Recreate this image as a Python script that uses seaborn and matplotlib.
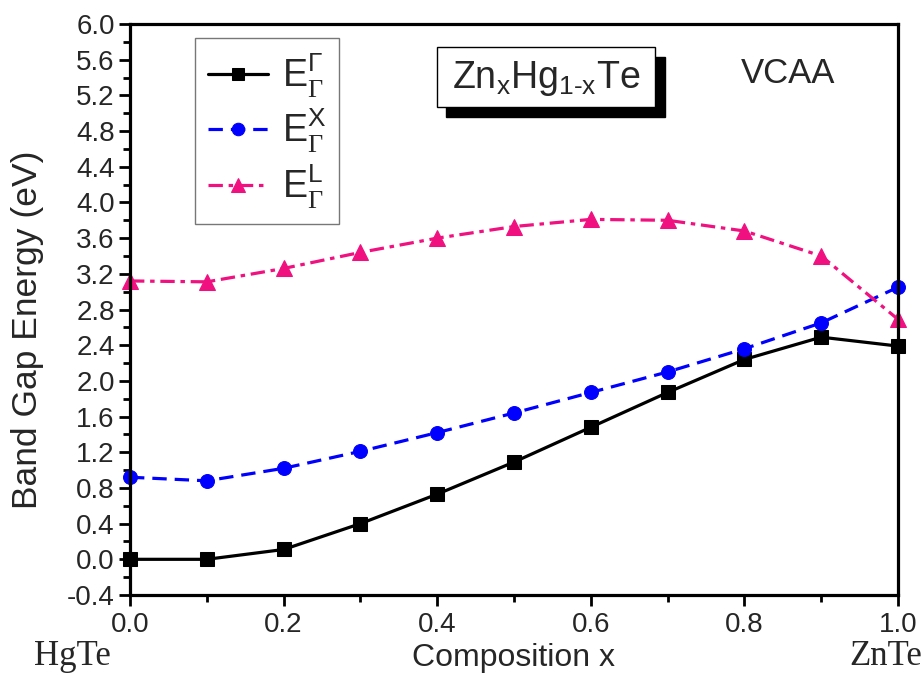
import numpy as np
import pandas as pd
import seaborn as sns
import matplotlib
matplotlib.use("Agg")
import matplotlib.pyplot as plt
from matplotlib.ticker import MultipleLocator, FormatStrFormatter
from matplotlib.patches import Rectangle

# ---- data ----
composition = [0.0, 0.1, 0.2, 0.3, 0.4, 0.5, 0.6, 0.7, 0.8, 0.9, 1.0]
e_gamma = [0.0, 0.0, 0.11, 0.40, 0.73, 1.09, 1.48, 1.87, 2.24, 2.49, 2.39]
e_x = [0.92, 0.88, 1.02, 1.21, 1.42, 1.64, 1.87, 2.10, 2.36, 2.65, 3.05]
e_l = [3.12, 3.11, 3.26, 3.44, 3.60, 3.73, 3.81, 3.80, 3.68, 3.40, 2.69]
series_names = ["G", "X", "L"]
legend_labels = [r"$\mathrm{E}_{\mathsf{\Gamma}}^{\Gamma}$",
                 r"$\mathrm{E}_{\mathsf{\Gamma}}^{\mathrm{X}}$",
                 r"$\mathrm{E}_{\mathsf{\Gamma}}^{\mathrm{L}}$"]
y_ticks = [-0.4, 0.0, 0.4, 0.8, 1.2, 1.6, 2.0, 2.4, 2.8, 3.2, 3.6, 4.0, 4.4, 4.8, 5.2, 5.6, 6.0]
x_ticks = [0.0, 0.2, 0.4, 0.6, 0.8, 1.0]

df = pd.DataFrame({
    "x": composition * 3,
    "E": e_gamma + e_x + e_l,
    "series": [s for s in series_names for _ in composition],
})

sns.set_style("ticks")
plt.rcParams["font.family"] = ["Liberation Sans", "DejaVu Sans"]
plt.rcParams["mathtext.fontset"] = "custom"
plt.rcParams["mathtext.rm"] = "Liberation Sans"
plt.rcParams["mathtext.it"] = "Liberation Sans:italic"
plt.rcParams["mathtext.bf"] = "Liberation Sans:bold"
plt.rcParams["mathtext.sf"] = "Liberation Serif"

colors = {"G": "#000000", "X": "#0000FF", "L": "#F0107F"}
markers = {"G": "s", "X": "o", "L": "^"}
dashes = {"G": "", "X": (4.5, 2.5), "L": (4.5, 1.8, 1.4, 1.8)}

fig = plt.figure(figsize=(9.24, 6.93), dpi=100)
ax = fig.add_axes([130 / 924, 1 - 595 / 693, 768 / 924, 571 / 693])

sns.lineplot(data=df, x="x", y="E", hue="series", style="series",
             hue_order=series_names, style_order=series_names,
             palette=colors, markers=markers, dashes=dashes,
             linewidth=2.3, markersize=10, sort=False, legend=False, ax=ax)

lines = ax.get_lines()[:3]
msizes = {"G": 9.5, "X": 10, "L": 11.5}
for ln, s in zip(lines, series_names):
    ln.set_markeredgecolor(colors[s])
    ln.set_markerfacecolor(colors[s])
    ln.set_markersize(msizes[s])
    ln.set_clip_on(False)

ax.set_xlim(0.0, 1.0)
ax.set_ylim(-0.4, 6.0)
ax.set_xticks(x_ticks)
ax.set_yticks(y_ticks)
ax.xaxis.set_minor_locator(MultipleLocator(0.1))
ax.yaxis.set_minor_locator(MultipleLocator(0.2))
ax.xaxis.set_major_formatter(FormatStrFormatter("%.1f"))
ax.yaxis.set_major_formatter(FormatStrFormatter("%.1f"))

for sp in ax.spines.values():
    sp.set_linewidth(2.3)
    sp.set_color("black")
    sp.set_visible(True)

ax.tick_params(axis="both", which="major", direction="out", length=8, width=2.0,
               color="black", top=False, right=False)
ax.tick_params(axis="both", which="minor", direction="out", length=5, width=2.0,
               color="black", top=False, right=False)
ax.tick_params(axis="y", labelsize=20, pad=3)
ax.tick_params(axis="x", labelsize=20, pad=4)

ax.set_ylabel("Band Gap Energy (eV)", fontsize=25.5)
ax.yaxis.set_label_coords(-0.134, 0.465)
ax.yaxis.label.set_va("center")
ax.set_xlabel("Composition x", fontsize=23)
ax.xaxis.set_label_coords(0.5, -0.11)
ax.xaxis.label.set_va("center")

ax.text(-0.0755, -0.107, "HgTe", transform=ax.transAxes, ha="center", va="center",
        fontsize=25, family="Liberation Serif", clip_on=False)
ax.text(1.031, -0.107, "ZnTe", transform=ax.transAxes, ha="right", va="center",
        fontsize=25, family="Liberation Serif", clip_on=False)

# title box with shadow
ax.add_patch(Rectangle((0.412, 0.838), 0.284, 0.105, transform=ax.transAxes,
                       facecolor="black", edgecolor="black", zorder=5, clip_on=False))
ax.add_patch(Rectangle((0.400, 0.855), 0.284, 0.105, transform=ax.transAxes,
                       facecolor="white", edgecolor="black", linewidth=1.0,
                       zorder=6, clip_on=False))
ax.text(0.542, 0.905, r"$\mathrm{Zn_xHg_{1\text{-}x}Te}$", transform=ax.transAxes,
        ha="center", va="center", fontsize=27, zorder=7)
ax.text(0.857, 0.914, "VCAA", transform=ax.transAxes, ha="center", va="center",
        fontsize=25)

leg = ax.legend(lines, legend_labels, loc="upper left", bbox_to_anchor=(0.085, 0.975),
                borderaxespad=0, fontsize=27, frameon=True, fancybox=False,
                handlelength=1.6, handletextpad=0.35, labelspacing=0.2,
                borderpad=0.35, markerscale=0.9)
leg.get_frame().set_edgecolor("#777777")
leg.get_frame().set_linewidth(1.0)
leg.get_frame().set_alpha(1)

fig.savefig("out.png", dpi=100, facecolor="white")
